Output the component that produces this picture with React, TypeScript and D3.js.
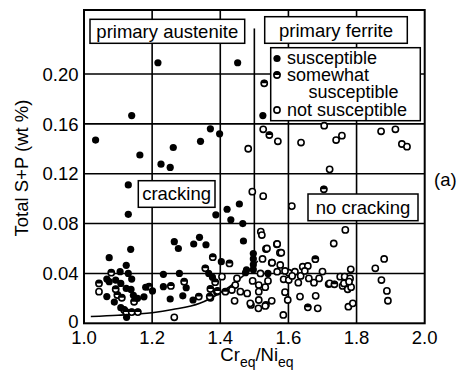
import React from "react";
import * as d3 from "d3";

// Cr_eq/Ni_eq ratio vs. total S+P content (wt %), grouped by cracking susceptibility
const susceptible: [number, number][] = [
  [1.034, 0.147], [1.14, 0.1666], [1.164, 0.135], [1.217, 0.209], [1.226, 0.1276],
  [1.253, 0.125], [1.262, 0.141], [1.342, 0.146], [1.371, 0.156], [1.398, 0.152],
  [1.13, 0.111], [1.451, 0.209], [1.525, 0.1666],
  [1.13, 0.0874], [1.387, 0.087], [1.42, 0.0915], [1.456, 0.0957], [1.431, 0.083], [1.466, 0.08],
  [1.265, 0.0655], [1.277, 0.06], [1.322, 0.0636], [1.339, 0.069], [1.358, 0.063],
  [1.137, 0.0593], [1.074, 0.0526], [1.124, 0.0465], [1.403, 0.0494], [1.468, 0.066],
  [1.497, 0.056], [1.497, 0.0516], [1.497, 0.047], [1.497, 0.043], [1.477, 0.0428],
  [1.54, 0.04], [1.474, 0.0406], [1.13, 0.04], [1.106, 0.0414], [1.233, 0.0393], [1.28, 0.04],
  [1.366, 0.04], [1.377, 0.037], [1.067, 0.0355], [1.074, 0.0334], [1.093, 0.0347],
  [1.14, 0.0355], [1.108, 0.032], [1.124, 0.028], [1.138, 0.0272], [1.181, 0.0289],
  [1.201, 0.026], [1.233, 0.0294], [1.3, 0.0285], [1.067, 0.0214], [1.089, 0.017],
  [1.145, 0.0224], [1.157, 0.02], [1.176, 0.0212], [1.108, 0.0125], [1.125, 0.0048],
  [1.253, 0.0195], [1.29, 0.022], [1.32, 0.0187],
];

const somewhat: [number, number][] = [
  [1.529, 0.1925], [1.544, 0.151], [1.704, 0.1075], [1.378, 0.053], [1.08, 0.0406],
  [1.356, 0.0441], [1.385, 0.033], [1.044, 0.032], [1.191, 0.0294], [1.255, 0.03],
  [1.098, 0.0227], [1.111, 0.0205], [1.147, 0.0173], [1.118, 0.0107], [1.124, 0.009],
  [1.14, 0.009], [1.158, 0.009], [1.337, 0.0214], [1.369, 0.0214], [1.371, 0.0275],
  [1.392, 0.026], [1.294, 0.0334], [1.415, 0.0254], [1.679, 0.0514], [1.735, 0.0313],
  [1.657, 0.0128], [1.093, 0.0273], [1.427, 0.048],
];

const notSusceptible: [number, number][] = [
  [1.526, 0.1556], [1.569, 0.146], [1.482, 0.14], [1.637, 0.145], [1.705, 0.1585],
  [1.74, 0.147], [1.757, 0.1505], [1.872, 0.154], [1.914, 0.1556], [1.933, 0.1438],
  [1.948, 0.1417], [1.721, 0.1235], [1.494, 0.1056], [1.526, 0.102], [1.61, 0.094],
  [1.767, 0.0749], [1.733, 0.064], [1.519, 0.0735], [1.522, 0.0708], [1.566, 0.0634],
  [1.575, 0.0566], [1.534, 0.0596], [1.524, 0.0516], [1.551, 0.0486], [1.576, 0.0468],
  [1.642, 0.0454], [1.657, 0.046], [1.783, 0.0433], [1.855, 0.0441], [1.881, 0.0516],
  [1.873, 0.0347], [1.889, 0.026], [1.892, 0.0181], [1.776, 0.0133], [1.789, 0.016],
  [1.752, 0.0374], [1.765, 0.0374], [1.781, 0.036], [1.718, 0.0315], [1.759, 0.03],
  [1.774, 0.0273], [1.784, 0.029], [1.763, 0.032], [1.778, 0.0334],
  [1.585, 0.0067], [1.686, 0.012], [1.634, 0.0214], [1.68, 0.022], [1.598, 0.0187],
  [1.551, 0.018], [1.534, 0.0147], [1.512, 0.012], [1.49, 0.0147],
  [1.518, 0.04], [1.567, 0.0414], [1.586, 0.0353], [1.601, 0.0406], [1.619, 0.0414],
  [1.629, 0.0326], [1.601, 0.0347], [1.66, 0.036], [1.675, 0.0326], [1.69, 0.036],
  [1.721, 0.032], [1.513, 0.0307], [1.532, 0.029], [1.513, 0.0254], [1.513, 0.0187],
  [1.532, 0.0139], [1.405, 0.0374], [1.449, 0.036], [1.444, 0.0307], [1.39, 0.0254],
  [1.434, 0.0267], [1.459, 0.0254], [1.479, 0.024], [1.371, 0.0205], [1.442, 0.018],
  [1.488, 0.016], [1.265, 0.0048], [1.044, 0.0254], [1.537, 0.06], [1.567, 0.0636],
  [1.579, 0.0566], [1.552, 0.0486], [1.59, 0.042], [1.611, 0.038], [1.636, 0.038],
  [1.648, 0.042], [1.7, 0.0415], [1.495, 0.034], [1.54, 0.034], [1.59, 0.025],
];

// Solid boundary curve through the lower edge of the data
const boundary: [number, number][] = [
  [1.02, 0.0055], [1.1, 0.0065], [1.2, 0.0085], [1.26, 0.011], [1.34, 0.016],
  [1.4, 0.0245], [1.45, 0.034], [1.49, 0.044], [1.51, 0.05],
];

const xTicks = [1.0, 1.2, 1.4, 1.6, 1.8, 2.0];
const yTicks = [0, 0.04, 0.08, 0.12, 0.16, 0.2];

const W = 458;
const H = 377;
const L = 84;
const R = 424.7;
const T = 10;
const B = 323.3;
const FONT = "'Liberation Sans', Arial, Helvetica, sans-serif";

export default function App() {
  const x = d3.scaleLinear().domain([1.0, 2.0]).range([L, R]);
  const y = d3.scaleLinear().domain([0, 0.2513]).range([B, T]);
  const line = d3
    .line<[number, number]>()
    .x((d) => x(d[0]))
    .y((d) => y(d[1]))
    .curve(d3.curveMonotoneX);

  const r = 3.6;
  const ro = 3.1;
  const half = (cx: number, cy: number, rr: number) =>
    `M${cx - rr},${cy} A${rr},${rr} 0 0 1 ${cx + rr},${cy} Z`;

  const openMark = (cx: number, cy: number, key: string) => (
    <circle key={key} cx={cx} cy={cy} r={ro} fill="#fff" stroke="#000" strokeWidth={1.6} />
  );
  const halfMark = (cx: number, cy: number, key: string) => (
    <g key={key}>
      <circle cx={cx} cy={cy} r={ro} fill="#fff" stroke="#000" strokeWidth={1.6} />
      <path d={half(cx, cy, ro + 0.4)} fill="#000" />
    </g>
  );
  const fullMark = (cx: number, cy: number, key: string) => (
    <circle key={key} cx={cx} cy={cy} r={r} fill="#000" />
  );

  const box = (x0: number, y0: number, x1: number, y1: number) => (
    <rect x={x0} y={y0} width={x1 - x0} height={y1 - y0} fill="#fff" stroke="#000" strokeWidth={1.5} />
  );

  return (
    <svg width={W} height={H} style={{ position: "absolute", left: 0, top: 0, fontFamily: FONT }}>
      <rect width={W} height={H} fill="#fff" />
      {/* grid */}
      {xTicks.slice(1, -1).map((t) => (
        <line key={"gx" + t} x1={x(t)} x2={x(t)} y1={T} y2={B} stroke="#000" strokeWidth={1.6} />
      ))}
      {yTicks.slice(1).map((t) => (
        <line key={"gy" + t} x1={L} x2={R} y1={y(t)} y2={y(t)} stroke="#000" strokeWidth={1.6} />
      ))}
      {/* austenite / ferrite divider */}
      <line x1={x(1.5)} x2={x(1.5)} y1={y(0.2365)} y2={y(0.04)} stroke="#000" strokeWidth={1.6} />
      {/* boundary curve */}
      <path d={line(boundary) || ""} fill="none" stroke="#000" strokeWidth={1.6} />
      {/* points */}
      {notSusceptible.map((d, i) => openMark(x(d[0]), y(d[1]), "n" + i))}
      {somewhat.map((d, i) => halfMark(x(d[0]), y(d[1]), "s" + i))}
      {susceptible.map((d, i) => fullMark(x(d[0]), y(d[1]), "f" + i))}
      {/* frame */}
      <rect x={L} y={T} width={R - L} height={B - T} fill="none" stroke="#000" strokeWidth={2} />
      {/* region labels */}
      {box(90, 19.3, 244.7, 43.3)}
      <text x={167.3} y={38} fontSize={18.5} textAnchor="middle">primary austenite</text>
      {box(264.7, 16.7, 407.3, 43.3)}
      <text x={336} y={36.5} fontSize={18.5} textAnchor="middle">primary ferrite</text>
      {box(138.3, 180.7, 215, 207.3)}
      <text x={176.6} y={200} fontSize={18.5} textAnchor="middle">cracking</text>
      {box(308, 194, 418, 220.7)}
      <text x={363} y={213.5} fontSize={18.5} textAnchor="middle">no cracking</text>
      {/* legend */}
      {box(270.7, 47.7, 420.3, 120.7)}
      {fullMark(277, 58.5, "lf")}
      <text x={287} y={64} fontSize={18}>susceptible</text>
      {halfMark(277, 75, "ls")}
      <text x={287} y={81} fontSize={18}>somewhat</text>
      <text x={308.5} y={98} fontSize={18}>susceptible</text>
      {openMark(277, 110, "ln")}
      <text x={287} y={116} fontSize={18}>not susceptible</text>
      {/* ticks */}
      {xTicks.map((t) => (
        <text key={"tx" + t} x={x(t)} y={343.5} fontSize={18.5} textAnchor="middle">
          {t.toFixed(1)}
        </text>
      ))}
      {yTicks.map((t) => (
        <text key={"ty" + t} x={78.5} y={y(t) + (t === 0 ? 4.5 : 6.7)} fontSize={18.5} textAnchor="end">
          {t === 0 ? "0" : t.toFixed(2)}
        </text>
      ))}
      {/* axis titles */}
      <text x={257} y={361} fontSize={18.5} textAnchor="middle">
        Cr<tspan fontSize={14} dy={6}>eq</tspan>
        <tspan dy={-6}>/Ni</tspan>
        <tspan fontSize={14} dy={6}>eq</tspan>
      </text>
      <text transform="translate(28,168) rotate(-90)" fontSize={18.5} textAnchor="middle">
        Total S+P (wt %)
      </text>
      <text x={434} y={186} fontSize={18.5}>(a)</text>
    </svg>
  );
}
